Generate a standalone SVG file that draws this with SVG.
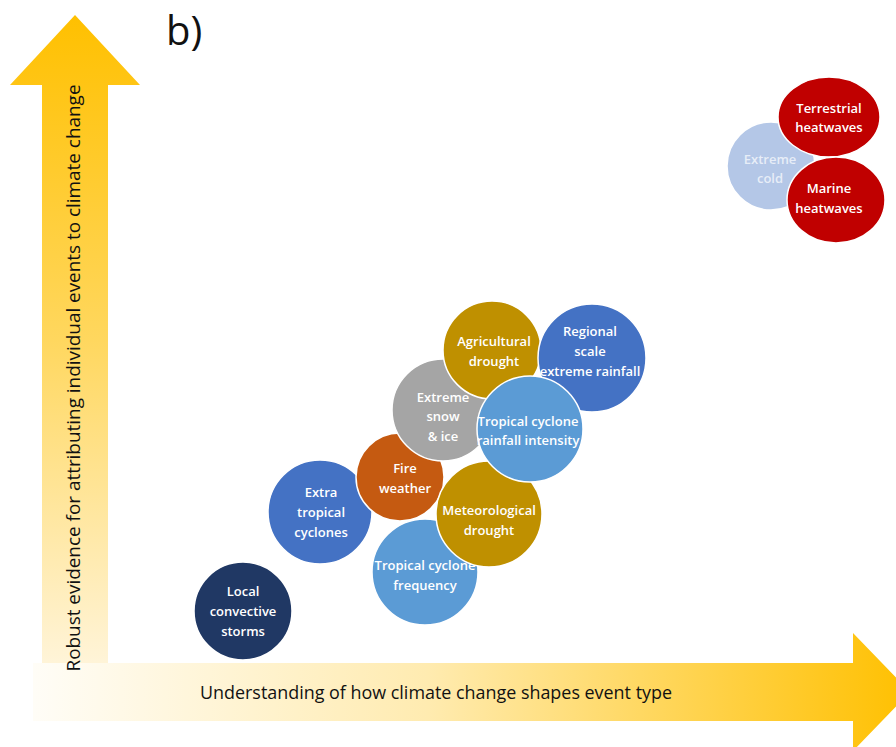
<svg xmlns="http://www.w3.org/2000/svg" width="896" height="747" viewBox="0 0 896 747">
<defs>
<linearGradient id="gv" x1="0" y1="15" x2="0" y2="663" gradientUnits="userSpaceOnUse">
<stop offset="0" stop-color="#FFC000"/>
<stop offset="0.5" stop-color="#FFD75E"/>
<stop offset="1" stop-color="#FFF4D8"/>
</linearGradient>
<linearGradient id="gh" x1="33" y1="0" x2="910" y2="0" gradientUnits="userSpaceOnUse">
<stop offset="0" stop-color="#FFFDF7"/>
<stop offset="0.45" stop-color="#FFEBB0"/>
<stop offset="1" stop-color="#FFC000"/>
</linearGradient>
<style>
.n{stroke:#fff;stroke-width:1.5}
.t{font-family:"Open Sans","Liberation Sans",sans-serif;font-size:13px;font-weight:600;fill:#fff;text-anchor:middle}
.ax{font-family:"Open Sans","Liberation Sans",sans-serif;font-size:17.5px;fill:#111;text-anchor:middle}
</style>
</defs>
<rect width="896" height="747" fill="#fff"/>
<g id="axes">
<polygon points="75,15 140,85 108,85 108,663 42,663 42,85 10,85" fill="url(#gv)"/>
<polygon points="33,663 853,663 853,633 910,692 853,751 853,721 33,721" fill="url(#gh)"/>
<text class="ax" transform="translate(80,378) rotate(-90)" textLength="587" lengthAdjust="spacingAndGlyphs">Robust evidence for attributing individual events to climate change</text>
<text class="ax" x="436" y="699" textLength="472" lengthAdjust="spacingAndGlyphs">Understanding of how climate change shapes event type</text>
<text x="166" y="45" font-family="Open Sans, Liberation Sans, sans-serif" font-size="40" fill="#111">b)</text>
</g>
<g id="connectors"></g>
<g id="local-convective-storms"><circle class="n" cx="243" cy="611" r="49" fill="#203864"/><text class="t" x="243" y="596">Local</text><text class="t" x="243" y="616">convective</text><text class="t" x="243" y="636">storms</text></g>
<g id="extra-tropical-cyclones"><circle class="n" cx="320" cy="512" r="52" fill="#4472C4"/><text class="t" x="321" y="497">Extra</text><text class="t" x="321" y="517">tropical</text><text class="t" x="321" y="537">cyclones</text></g>
<g id="fire-weather"><circle class="n" cx="400" cy="477" r="44" fill="#C55A11"/><text class="t" x="405" y="473">Fire</text><text class="t" x="405" y="493">weather</text></g>
<g id="tc-frequency"><circle class="n" cx="425" cy="572" r="53" fill="#5B9BD5"/><text class="t" x="425" y="570">Tropical cyclone</text><text class="t" x="425" y="590">frequency</text></g>
<g id="extreme-snow-ice"><circle class="n" cx="443" cy="410" r="51" fill="#A5A5A5"/><text class="t" x="443" y="402">Extreme</text><text class="t" x="443" y="421">snow</text><text class="t" x="443" y="441">&amp; ice</text></g>
<g id="meteorological-drought"><circle class="n" cx="489" cy="514" r="53" fill="#BF9000"/><text class="t" x="489" y="515">Meteorological</text><text class="t" x="489" y="535">drought</text></g>
<g id="agricultural-drought"><circle class="n" cx="492" cy="350" r="49" fill="#BF9000"/><text class="t" x="494" y="346">Agricultural</text><text class="t" x="494" y="366">drought</text></g>
<g id="regional-extreme-rainfall"><circle class="n" cx="592" cy="358" r="54" fill="#4472C4"/><text class="t" x="590" y="336">Regional</text><text class="t" x="590" y="356">scale</text><text class="t" x="590" y="376">extreme rainfall</text></g>
<g id="tc-rainfall-intensity"><circle class="n" cx="530" cy="429" r="53" fill="#5B9BD5"/><text class="t" x="528" y="426">Tropical cyclone</text><text class="t" x="528" y="445">rainfall intensity</text></g>
<g id="extreme-cold"><circle class="n" cx="771" cy="166" r="44" fill="#B4C7E7"/><text class="t" x="770" y="164" style="fill-opacity:0.7">Extreme</text><text class="t" x="770" y="183" style="fill-opacity:0.7">cold</text></g>
<g id="terrestrial-heatwaves"><ellipse class="n" cx="829" cy="117" rx="51" ry="40" fill="#C00000"/><text class="t" x="829" y="113">Terrestrial</text><text class="t" x="829" y="132">heatwaves</text></g>
<g id="marine-heatwaves"><ellipse class="n" cx="836" cy="200" rx="49" ry="43" fill="#C00000"/><text class="t" x="829" y="193">Marine</text><text class="t" x="829" y="213">heatwaves</text></g>
</svg>
